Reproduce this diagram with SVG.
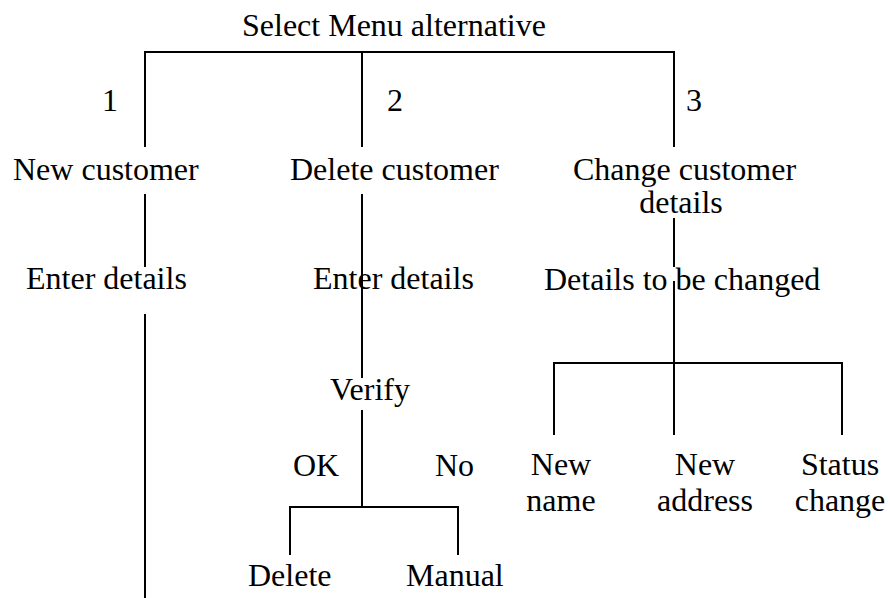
<svg xmlns="http://www.w3.org/2000/svg" width="890" height="598" viewBox="0 0 890 598">
<style>
text{font-family:"Liberation Serif","Times New Roman",serif;font-size:32px;fill:#000}
.c{text-anchor:middle}
.ln{stroke:#000;stroke-width:2;fill:none}
</style>
<rect width="890" height="598" fill="#fff"/>
<g id="connectors" class="ln">
<path d="M145,147V52H674V147M362,52V147"/>
<path d="M145,194V267M145,314V598"/>
<path d="M362,194V378M362,410V507M290,555V507H458V555"/>
<path d="M674,218V267M674,281V435M554,435V363H842V435"/>
</g>
<g id="n-select"><text x="242" y="36">Select Menu alternative</text></g>
<g id="l-1"><text x="102" y="111">1</text></g>
<g id="l-2"><text x="387" y="111">2</text></g>
<g id="l-3"><text x="686" y="111">3</text></g>
<g id="n-new"><text x="13" y="180">New customer</text></g>
<g id="n-delete"><text x="290" y="180">Delete customer</text></g>
<g id="n-change"><text x="573" y="180">Change customer</text><text class="c" x="681" y="213">details</text></g>
<g id="n-enter1"><text x="26" y="289">Enter details</text></g>
<g id="n-enter2"><text x="313" y="289">Enter details</text></g>
<g id="n-details"><text x="544" y="290">Details to be changed</text></g>
<g id="n-verify"><text x="330" y="400">Verify</text></g>
<g id="l-ok"><text x="293" y="476">OK</text></g>
<g id="l-no"><text x="435" y="476">No</text></g>
<g id="n-del"><text x="248" y="586">Delete</text></g>
<g id="n-manual"><text x="406" y="586">Manual</text></g>
<g id="n-name"><text class="c" x="561" y="475">New</text><text class="c" x="561" y="511">name</text></g>
<g id="n-address"><text class="c" x="705" y="475">New</text><text class="c" x="705" y="511">address</text></g>
<g id="n-status"><text class="c" x="840" y="475">Status</text><text class="c" x="840" y="511">change</text></g>
</svg>
